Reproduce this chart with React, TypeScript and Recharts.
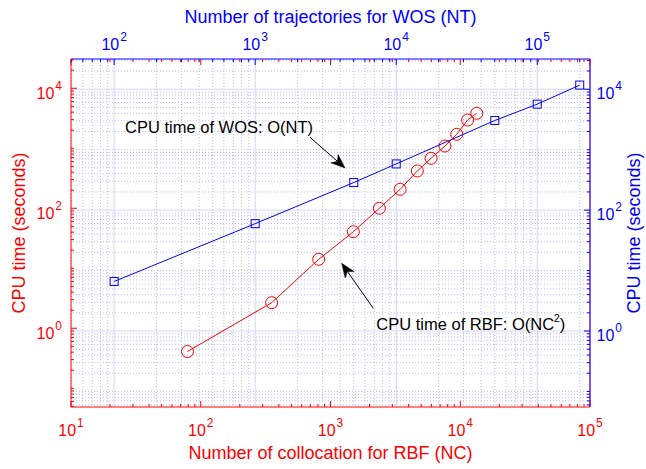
import React from 'react';
import { ScatterChart, Scatter, XAxis, YAxis, ReferenceLine } from 'recharts';

// ---- Data ----
// RBF: number of collocation points (NC) vs CPU time in seconds
const rbfNC = [79, 352, 811, 1500, 2380, 3440, 4670, 5960, 7620, 9400, 11400, 13400];
const rbfTime = [0.41, 2.67, 14.1, 40.7, 100, 207, 419, 681, 1090, 1710, 2960, 3830];
// WOS: number of trajectories (NT) vs CPU time in seconds
const wosNT = [100, 1000, 5000, 10000, 50000, 100000, 200000];
const wosTime = [6.6, 59.7, 286, 581, 3040, 5660, 11700];

// ---- Tick labels (labelled decades) ----
const bottomMajorTicks = [1e1, 1e2, 1e3, 1e4, 1e5];
const topMajorTicks = [1e2, 1e3, 1e4, 1e5];
const leftMajorTicks = [1e0, 1e2, 1e4];
const rightMajorTicks = [1e0, 1e2, 1e4];

// ---- Text ----
const titleTop = 'Number of trajectories for WOS (NT)';
const titleBottom = 'Number of collocation for RBF (NC)';
const titleLeft = 'CPU time (seconds)';
const titleRight = 'CPU time (seconds)';
const noteWOS = 'CPU time of WOS: O(NT)';
const noteRBF = 'CPU time of RBF: O(NC';

// annotation arrows in (NC, time) coordinates: [tail, tip]
const arrowWOS = [{ x: 695, y: 1525 }, { x: 1294, y: 470 }];
const arrowRBF = [{ x: 2138, y: 2.15 }, { x: 1219, y: 12.1 }];

// ---- Layout / style ----
const W = 646;
const H = 469;
const LEFT_W = 71;
const RIGHT_W = 56;
const TOP_H = 59;
const BOTTOM_H = 62;
const PW = W - LEFT_W - RIGHT_W;
const PH = H - TOP_H - BOTTOM_H;
const RED = '#ff0000';
const BLUE = '#0000ff';
const RIGHT_LINE = '#5a1ee0';
const GRID_MAJOR = '#d4d4f8';
const GRID_MINOR = '#bcbcf2';
const FONT = '"Liberation Sans", Arial, Helvetica, sans-serif';

const bottomDomain = [10, 1e5];
const topDomain = [Math.pow(10, 1.694), Math.pow(10, 5.374)];
const leftDomain = [Math.pow(10, -1.312), Math.pow(10, 4.488)];
const rightDomain = [Math.pow(10, -1.257), Math.pow(10, 4.5)];

const logTicks = (dom: number[]) => {
  const lo = Math.log10(dom[0]);
  const hi = Math.log10(dom[1]);
  const out: number[] = [];
  for (let e = Math.floor(lo); e <= Math.ceil(hi); e++) {
    for (let k = 1; k <= 9; k++) {
      const v = k * Math.pow(10, e);
      const lv = Math.log10(v);
      if (lv >= lo - 1e-9 && lv <= hi + 1e-9) out.push(v);
    }
  }
  return out;
};

const bottomTicks = logTicks(bottomDomain);
const topTicks = logTicks(topDomain);
const leftTicks = logTicks(leftDomain);
const rightTicks = logTicks(rightDomain);

const isMajor = (v: number, majors: number[]) => majors.some((m) => Math.abs(m - v) / m < 1e-6);
const expOf = (v: number) => Math.round(Math.log10(v));

const PowLabel = ({ x, y, v, anchor, color }: any) => (
  <text x={x} y={y} textAnchor={anchor} fill={color} fontSize={16} fontFamily={FONT}>
    10
    <tspan dx={1} dy={-9} fontSize={12}>
      {expOf(v)}
    </tspan>
  </text>
);

const BottomTick = ({ x, y, payload }: any) => {
  const v = payload.value;
  const major = isMajor(v, bottomMajorTicks);
  const len = major ? 6 : 3;
  return (
    <g>
      <line x1={x} x2={x} y1={y} y2={y - len} stroke={RED} strokeWidth={1} />
      <line x1={x} x2={x} y1={y - PH} y2={y - PH + len} stroke={RED} strokeWidth={1} />
      {major && <PowLabel x={x} y={y + 29} v={v} anchor="middle" color={RED} />}
    </g>
  );
};

const TopTick = ({ x, y, payload }: any) => {
  const v = payload.value;
  const major = isMajor(v, topMajorTicks);
  const len = major ? 6 : 3;
  return (
    <g>
      <line x1={x} x2={x} y1={y} y2={y + len} stroke={BLUE} strokeWidth={1} />
      {major && <PowLabel x={x} y={y - 9} v={v} anchor="middle" color={BLUE} />}
    </g>
  );
};

const LeftTick = ({ x, y, payload }: any) => {
  const v = payload.value;
  const major = isMajor(v, leftMajorTicks);
  const len = major ? 6 : 3;
  return (
    <g>
      <line x1={x} x2={x + len} y1={y} y2={y} stroke={RED} strokeWidth={1} />
      {major && <PowLabel x={x - 9} y={y + 10.5} v={v} anchor="end" color={RED} />}
    </g>
  );
};

const RightTick = ({ x, y, payload }: any) => {
  const v = payload.value;
  const major = isMajor(v, rightMajorTicks);
  const len = major ? 6 : 3;
  return (
    <g>
      <line x1={x} x2={x - len} y1={y} y2={y} stroke={BLUE} strokeWidth={1} />
      {major && <PowLabel x={x + 6.5} y={y + 10} v={v} anchor="start" color={BLUE} />}
    </g>
  );
};

const AxisTitle = ({ tx, ty, rotate, text, color }: any) => (
  <text
    x={tx}
    y={ty}
    textAnchor="middle"
    fill={color}
    fontSize={18}
    fontFamily={FONT}
    transform={rotate ? `rotate(-90 ${tx} ${ty})` : undefined}
  >
    {text}
  </text>
);

const CircleMark = (p: any) => (
  <circle cx={p.cx} cy={p.cy} r={6} fill="none" stroke={RED} strokeWidth={1} />
);
const SquareMark = (p: any) => (
  <rect x={p.cx - 4} y={p.cy - 4} width={8} height={8} fill="none" stroke={BLUE} strokeWidth={1} />
);

const makeArrow = (kind: 'wos' | 'rbf') => (p: any) => {
  const { x1, y1, x2, y2 } = p;
  const dx = x2 - x1;
  const dy = y2 - y1;
  const L = Math.sqrt(dx * dx + dy * dy) || 1;
  const ux = dx / L;
  const uy = dy / L;
  const nx = -uy;
  const ny = ux;
  const HL = 14;
  const HW = 5.5;
  const NOTCH = 4;
  const bx = x2 - HL * ux;
  const by = y2 - HL * uy;
  const mx = x2 - (HL - NOTCH) * ux;
  const my = y2 - (HL - NOTCH) * uy;
  const head = `${x2},${y2} ${bx + HW * nx},${by + HW * ny} ${mx},${my} ${bx - HW * nx},${by - HW * ny}`;
  return (
    <g>
      <line x1={x1} y1={y1} x2={mx} y2={my} stroke="#000" strokeWidth={1} />
      <polygon points={head} fill="#000" stroke="#000" strokeWidth={0.5} />
      {kind === 'wos' ? (
        <text x={x1 + 3} y={y1 - 4} textAnchor="end" fontSize={16.5} fontFamily={FONT} fill="#000">
          {noteWOS}
        </text>
      ) : (
        <text x={x1 + 3} y={y1 + 22} textAnchor="start" fontSize={16.5} fontFamily={FONT} fill="#000">
          {noteRBF}
          <tspan dx={-0.5} dy={-8} fontSize={11}>
            2
          </tspan>
          <tspan dy={8} fontSize={16.5}>
            )
          </tspan>
        </text>
      )}
    </g>
  );
};

const rbfData = rbfNC.map((x, i) => ({ x, y: rbfTime[i] }));
const wosData = wosNT.map((x, i) => ({ x, y: wosTime[i] }));

const verticalGrid = topTicks;
const horizontalGrid = rightTicks;

export default function App() {
  return (
    <div style={{ position: 'absolute', left: 0, top: 0, width: W, height: H, background: '#fff' }}>
      <ScatterChart width={W} height={H} margin={{ top: 0, right: 0, bottom: 0, left: 0 }}>
        <XAxis
          xAxisId="bottom"
          orientation="bottom"
          dataKey="x"
          type="number"
          scale="log"
          domain={bottomDomain}
          allowDataOverflow
          ticks={bottomTicks}
          interval={0}
          height={BOTTOM_H}
          tickSize={0}
          tickMargin={0}
          tickLine={false}
          axisLine={{ stroke: RED, strokeWidth: 1 }}
          tick={(p: any) => <BottomTick {...p} />}
          label={<AxisTitle tx={LEFT_W + PW / 2} ty={459} text={titleBottom} color={RED} />}
        />
        <XAxis
          xAxisId="top"
          orientation="top"
          dataKey="x"
          type="number"
          scale="log"
          domain={topDomain}
          allowDataOverflow
          ticks={topTicks}
          interval={0}
          height={TOP_H}
          tickSize={0}
          tickMargin={0}
          tickLine={false}
          axisLine={{ stroke: BLUE, strokeWidth: 1 }}
          tick={(p: any) => <TopTick {...p} />}
          label={<AxisTitle tx={LEFT_W + PW / 2} ty={23} text={titleTop} color={BLUE} />}
        />
        <YAxis
          yAxisId="left"
          orientation="left"
          dataKey="y"
          type="number"
          scale="log"
          domain={leftDomain}
          allowDataOverflow
          ticks={leftTicks}
          interval={0}
          width={LEFT_W}
          tickSize={0}
          tickMargin={0}
          tickLine={false}
          axisLine={{ stroke: RED, strokeWidth: 1 }}
          tick={(p: any) => <LeftTick {...p} />}
          label={<AxisTitle tx={25} ty={TOP_H + PH / 2} rotate text={titleLeft} color={RED} />}
        />
        <YAxis
          yAxisId="right"
          orientation="right"
          dataKey="y"
          type="number"
          scale="log"
          domain={rightDomain}
          allowDataOverflow
          ticks={rightTicks}
          interval={0}
          width={RIGHT_W}
          tickSize={0}
          tickMargin={0}
          tickLine={false}
          axisLine={{ stroke: RIGHT_LINE, strokeWidth: 1.5 }}
          tick={(p: any) => <RightTick {...p} />}
          label={<AxisTitle tx={640} ty={TOP_H + PH / 2} rotate text={titleRight} color={BLUE} />}
        />

        {verticalGrid.map((v) => (
          <ReferenceLine
            key={'vx' + v}
            xAxisId="top"
            yAxisId="right"
            x={v}
            stroke={isMajor(v, topMajorTicks) ? GRID_MAJOR : GRID_MINOR}
            strokeDasharray={isMajor(v, topMajorTicks) ? undefined : '1 2'}
            strokeWidth={1}
          />
        ))}
        {horizontalGrid.map((v) => (
          <ReferenceLine
            key={'hy' + v}
            xAxisId="top"
            yAxisId="right"
            y={v}
            stroke={isMajor(v, rightMajorTicks) ? GRID_MAJOR : GRID_MINOR}
            strokeDasharray={isMajor(v, rightMajorTicks) ? undefined : '1 2'}
            strokeWidth={1}
          />
        ))}

        <Scatter
          name="RBF"
          data={rbfData}
          xAxisId="bottom"
          yAxisId="left"
          fill={RED}
          line={{ stroke: RED, strokeWidth: 1 }}
          shape={CircleMark}
          isAnimationActive={false}
        />
        <Scatter
          name="WOS"
          data={wosData}
          xAxisId="top"
          yAxisId="right"
          fill={BLUE}
          line={{ stroke: BLUE, strokeWidth: 1 }}
          shape={SquareMark}
          isAnimationActive={false}
        />

        <ReferenceLine
          xAxisId="bottom"
          yAxisId="left"
          segment={arrowWOS}
          shape={makeArrow('wos')}
        />
        <ReferenceLine
          xAxisId="bottom"
          yAxisId="left"
          segment={arrowRBF}
          shape={makeArrow('rbf')}
        />
      </ScatterChart>
    </div>
  );
}
